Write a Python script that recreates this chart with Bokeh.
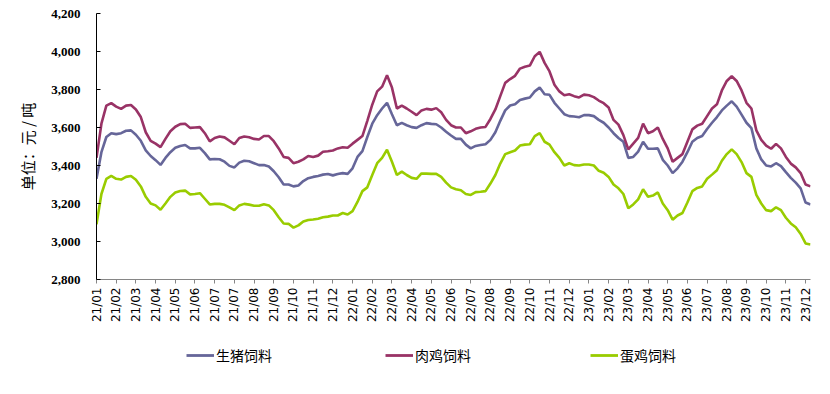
import math
from bokeh.plotting import figure
from bokeh.layouts import column
from bokeh.models import FixedTicker, Legend, LegendItem, NumeralTickFormatter, Range1d
from bokeh.embed import file_html
from bokeh.resources import INLINE

# Month labels under every 4th weekly point
tick_labels = ["21/01", "21/02", "21/03", "21/04", "21/05", "21/06", "21/07", "21/07",
               "21/08", "21/09", "21/10", "21/11", "21/12",
               "22/01", "22/02", "22/03", "22/04", "22/05", "22/06", "22/07",
               "22/08", "22/09", "22/10", "22/11", "22/12",
               "23/01", "23/02", "23/03", "23/04", "23/05", "23/06", "23/07",
               "23/08", "23/09", "23/10", "23/11", "23/12"]

series_names = ["生猪饲料", "肉鸡饲料", "蛋鸡饲料"]

# 生猪饲料 (weekly, yuan / ton)
pig = [3330, 3470, 3550, 3570, 3565, 3570, 3583, 3585, 3562, 3530,
       3480, 3450, 3428, 3403, 3440, 3470, 3493, 3503, 3508, 3490,
       3490, 3493, 3465, 3432, 3434, 3433, 3420, 3398, 3390, 3415,
       3425, 3422, 3412, 3402, 3403, 3395, 3370, 3338, 3300, 3300,
       3290, 3295, 3318, 3333, 3340, 3345, 3352, 3355, 3348, 3355,
       3360, 3356, 3385, 3445, 3476, 3550, 3620, 3665, 3700, 3730,
       3670, 3612, 3624, 3612, 3602, 3598, 3612, 3623, 3619, 3617,
       3600, 3578, 3558, 3540, 3540, 3510, 3490, 3503, 3508, 3512,
       3535, 3575, 3635, 3690, 3716, 3722, 3745, 3752, 3758, 3790,
       3810, 3775, 3772, 3730, 3700, 3670, 3660, 3658, 3654, 3665,
       3665, 3660, 3640, 3625, 3600, 3570, 3545, 3525, 3440, 3445,
       3473, 3525, 3488, 3488, 3490, 3430, 3400, 3360, 3385, 3420,
       3470, 3525, 3545, 3555, 3592, 3625, 3655, 3690, 3715, 3738,
       3710, 3668, 3625, 3597, 3490, 3432, 3400, 3395, 3412, 3397,
       3365, 3335, 3310, 3280, 3205, 3195]

# 肉鸡饲料
broiler = [3440, 3620, 3715, 3728, 3710, 3698, 3715, 3718, 3695, 3655,
           3575, 3530, 3515, 3497, 3540, 3580, 3604, 3618, 3620, 3598,
           3600, 3602, 3570, 3527, 3545, 3553, 3548, 3530, 3512, 3545,
           3553, 3549, 3540, 3537, 3555, 3555, 3528, 3490, 3445, 3440,
           3412, 3420, 3432, 3450, 3445, 3452, 3472, 3475, 3479, 3490,
           3496, 3493, 3515, 3535, 3555, 3635, 3720, 3790, 3815, 3875,
           3810, 3700, 3715, 3700, 3683, 3665, 3690, 3698, 3694, 3702,
           3680, 3640, 3612, 3600, 3600, 3570, 3580, 3593, 3600, 3603,
           3645, 3695, 3765, 3835, 3855, 3872, 3910, 3920, 3926, 3975,
           3998, 3940, 3895, 3825, 3790, 3770, 3775, 3765, 3758, 3773,
           3770, 3760, 3742, 3728, 3705, 3640, 3615, 3560, 3485, 3515,
           3545, 3620, 3570, 3580, 3600, 3540, 3490, 3420, 3440, 3460,
           3525, 3590, 3610, 3620, 3660, 3700, 3722, 3795, 3845, 3870,
           3845, 3795, 3730, 3700, 3585, 3535, 3505, 3488, 3514, 3490,
           3445, 3410, 3390, 3360, 3300, 3290]

# 蛋鸡饲料
layer = [3090, 3250, 3330, 3345, 3330, 3326, 3340, 3345, 3325, 3290,
         3235, 3200, 3190, 3167, 3200, 3235, 3258, 3266, 3268, 3248,
         3250, 3254, 3225, 3195, 3198, 3198, 3193, 3180, 3165, 3190,
         3198, 3194, 3188, 3188, 3196, 3190, 3165, 3128, 3095, 3093,
         3073, 3085, 3105, 3113, 3116, 3120, 3128, 3131, 3137, 3137,
         3150, 3142, 3160, 3208, 3265, 3285, 3350, 3412, 3440, 3483,
         3420, 3350, 3368, 3350, 3335, 3330, 3358, 3357, 3356, 3356,
         3340, 3310, 3285, 3275, 3270, 3250, 3245, 3260, 3262, 3265,
         3305, 3350, 3410, 3460, 3470, 3479, 3505, 3510, 3512, 3555,
         3570, 3525, 3510, 3470, 3440, 3400, 3412, 3402, 3400, 3405,
         3405, 3400, 3372, 3362, 3340, 3300, 3280, 3250, 3175, 3195,
         3222, 3275, 3236, 3242, 3258, 3200, 3165, 3115, 3137, 3150,
         3205, 3265, 3282, 3290, 3330, 3352, 3375, 3425, 3460, 3485,
         3460, 3418, 3360, 3340, 3245, 3200, 3165, 3160, 3180, 3165,
         3125, 3095, 3075, 3040, 2990, 2984]

y_ticks = [2800, 3000, 3200, 3400, 3600, 3800, 4000, 4200]
colors = ["#666699", "#993366", "#99CC00"]

x = list(range(len(pig)))
tick_pos = [i * 4 for i in range(len(tick_labels))]

p = figure(width=830, height=330, output_backend="svg", toolbar_location=None,
           x_range=Range1d(0, len(pig) - 1), y_range=Range1d(y_ticks[0], y_ticks[-1]),
           min_border_left=96, min_border_right=20, min_border_top=13,
           min_border_bottom=51)
p.outline_line_color = None
p.xgrid.visible = False
p.ygrid.visible = False
p.background_fill_color = "white"
p.border_fill_color = "white"

for data, c in zip([pig, broiler, layer], colors):
    p.line(x, data, line_color=c, line_width=2.6)

# Y axis
ya = p.yaxis[0]
ya.ticker = FixedTicker(ticks=y_ticks)
ya.formatter = NumeralTickFormatter(format="0,0")
ya.major_label_text_font = "Liberation Serif"
ya.major_label_text_font_style = "bold"
ya.major_label_text_font_size = "13px"
ya.major_label_text_color = "black"
ya.major_tick_in = 4
ya.major_tick_out = 0
ya.minor_tick_line_color = None
ya.axis_line_color = "black"
ya.major_tick_line_color = "black"
ya.major_label_standoff = 16
ya.axis_label = "单位：元 / 吨"
ya.axis_label_text_font = "Noto Sans CJK SC"
ya.axis_label_text_font_style = "normal"
ya.axis_label_text_font_size = "15px"
ya.axis_label_text_color = "black"
ya.axis_label_standoff = 10

# X axis
xa = p.xaxis[0]
xa.ticker = FixedTicker(ticks=tick_pos)
xa.major_label_overrides = {pos: lab for pos, lab in zip(tick_pos, tick_labels)}
xa.major_label_orientation = math.pi / 2
xa.major_label_text_font = "DejaVu Sans"
xa.major_label_text_font_size = "12px"
xa.major_label_text_color = "black"
xa.axis_line_color = "#868686"
xa.major_tick_line_color = "#868686"
xa.major_tick_in = 0
xa.major_tick_out = 4
xa.minor_tick_line_color = None
xa.major_label_standoff = 4

# Legend strip below the chart (its frame is aligned with the chart frame: x 96..810)
lf = figure(width=830, height=64, output_backend="svg", toolbar_location=None,
            x_range=Range1d(0, 714), y_range=Range1d(0, 64),
            x_axis_type=None, y_axis_type=None,
            min_border_left=96, min_border_right=20, min_border_top=0, min_border_bottom=0)
lf.outline_line_color = None
lf.xgrid.visible = False
lf.ygrid.visible = False
legend_x = [186, 385, 590]
for name, c, lx in zip(series_names, colors, legend_x):
    # placeholder line outside the visible range; only its legend swatch shows
    r = lf.line([-60, -50], [-60, -60], line_color=c, line_width=2.8)
    lg = Legend(items=[LegendItem(label=name, renderers=[r])],
                location=(lx - 96, 29), orientation="horizontal",
                border_line_color=None, background_fill_alpha=0,
                padding=0, margin=0, glyph_width=28, glyph_height=20,
                label_standoff=2, label_text_font="Noto Sans CJK SC",
                label_text_font_size="14px", label_text_color="black")
    lf.add_layout(lg, "center")

layout = column(p, lf, spacing=0)
open("out.html", "w").write(file_html(layout, INLINE))
